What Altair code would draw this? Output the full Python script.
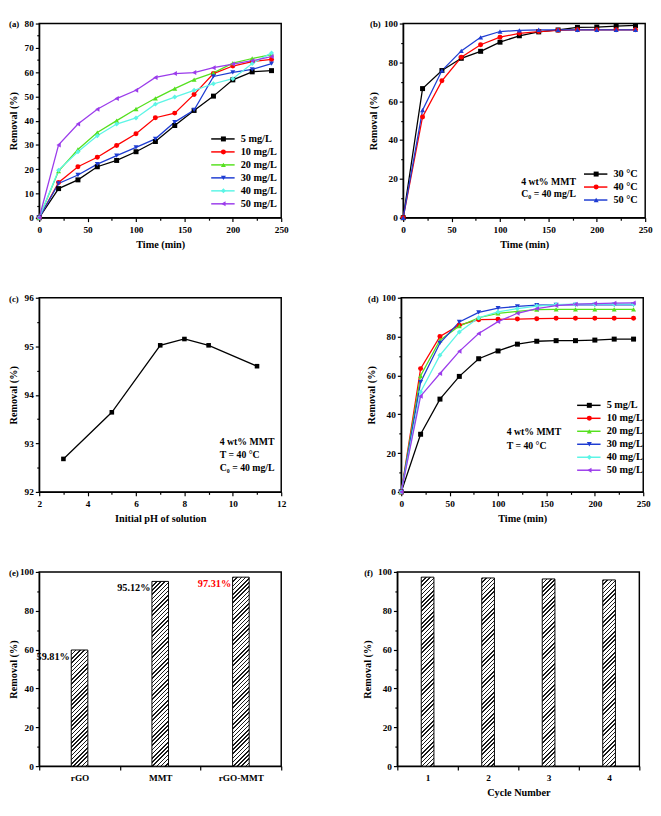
import altair as alt
import pandas as pd

FONT = "Liberation Serif"
W, H = 248, 199

# ---------------- data ----------------
time_min = [0, 20, 40, 60, 80, 100, 120, 140, 160, 180, 200, 220, 240]

conc_series = ["5 mg/L", "10 mg/L", "20 mg/L", "30 mg/L", "40 mg/L", "50 mg/L"]
a_5 = [0, 12.0, 15.6, 21.0, 23.6, 27.2, 31.4, 38.0, 44.2, 50.1, 56.8, 60.1, 60.6]
a_10 = [0, 14.5, 21.0, 24.9, 29.8, 34.6, 41.2, 43.1, 50.8, 59.4, 62.5, 64.3, 65.2]
a_20 = [0, 19.2, 28.1, 35.1, 40.0, 44.8, 49.2, 53.2, 56.9, 59.7, 63.7, 65.6, 67.2]
a_30 = [0, 14.1, 17.6, 22.1, 25.6, 29.0, 32.5, 39.4, 44.4, 58.2, 59.9, 61.1, 63.5]
a_40 = [0, 19.6, 27.2, 33.8, 38.6, 41.1, 46.8, 49.7, 52.5, 55.2, 57.3, 63.5, 67.9]
a_50 = [0, 30.0, 38.6, 44.7, 49.1, 52.5, 57.8, 59.4, 59.8, 61.8, 63.3, 64.7, 66.4]

temp_series = ["30 °C", "40 °C", "50 °C"]
b_30 = [0, 66.5, 75.8, 82.1, 85.7, 90.4, 93.7, 95.7, 96.7, 98.0, 98.2, 98.7, 99.0]
b_40 = [0, 51.9, 70.5, 82.6, 89.1, 93.0, 95.0, 95.9, 96.5, 96.8, 96.8, 96.8, 96.8]
b_50 = [0, 55.4, 75.8, 85.9, 92.9, 95.9, 96.5, 96.8, 96.8, 96.8, 96.8, 96.8, 96.8]

c_ph = [3, 5, 7, 8, 9, 11]
c_removal = [92.68, 93.64, 95.02, 95.15, 95.02, 94.59]

d_5 = [0, 29.7, 47.8, 59.5, 68.6, 72.6, 76.1, 77.6, 77.9, 77.9, 78.2, 78.7, 78.7]
d_10 = [0, 63.5, 80.1, 85.9, 88.7, 88.9, 89.0, 89.2, 89.4, 89.4, 89.4, 89.4, 89.4]
d_20 = [0, 59.8, 78.1, 85.4, 89.7, 92.0, 93.0, 93.9, 94.0, 94.0, 94.0, 94.0, 94.0]
d_30 = [0, 56.5, 76.7, 87.5, 92.5, 94.7, 95.5, 96.2, 96.3, 96.3, 96.3, 96.3, 96.3]
d_40 = [0, 51.5, 70.4, 82.4, 89.7, 92.7, 94.4, 95.7, 96.5, 96.7, 96.7, 96.7, 96.7]
d_50 = [0, 49.3, 61.0, 72.4, 81.6, 87.7, 92.0, 94.4, 96.0, 96.7, 97.0, 97.2, 97.3]

materials = ["rGO", "MMT", "rGO-MMT"]
e_removal = [59.81, 95.12, 97.31]

cycles = [1, 2, 3, 4]
f_removal = [97.31, 96.9, 96.4, 95.9]

panel_tags = ["(a)", "(b)", "(c)", "(d)", "(e)", "(f)"]
note_b = "4 wt% MMT\nC₀ = 40 mg/L"
note_c = "4 wt% MMT\nT = 40 °C\nC₀ = 40 mg/L"
note_d = "4 wt% MMT\nT = 40 °C"

# tick positions
time_ticks = [0, 50, 100, 150, 200, 250]
time_minor = [25, 75, 125, 175, 225]
pct_ticks = [0, 20, 40, 60, 80, 100]
pct_minor = [10, 30, 50, 70, 90]
a_ticks = [0, 10, 20, 30, 40, 50, 60, 70, 80]
a_minor = [5, 15, 25, 35, 45, 55, 65, 75]
ph_ticks = [2, 4, 6, 8, 10, 12]
ph_minor = [3, 5, 7, 9, 11]
c_ticks = [92, 93, 94, 95, 96]
c_minor = [92.5, 93.5, 94.5, 95.5]

conc_colors = ["#000000", "#FF0000", "#55E01E", "#1E3CD2", "#5CF5E6", "#9B3CEB"]
conc_shapes = ["square", "circle", "triangle-up", "triangle-down", "diamond", "triangle-left"]
temp_colors = ["#000000", "#FF0000", "#1E3CD2"]
temp_shapes = ["square", "circle", "triangle-up"]


def long_df(series, arrays):
    rows = []
    for s, arr in zip(series, arrays):
        for t, v in zip(time_min, arr):
            rows.append({"series": s, "time": t, "removal": v})
    return pd.DataFrame(rows)


df_a = long_df(conc_series, [a_5, a_10, a_20, a_30, a_40, a_50])
df_b = long_df(temp_series, [b_30, b_40, b_50])
df_d = long_df(conc_series, [d_5, d_10, d_20, d_30, d_40, d_50])
df_c = pd.DataFrame({"ph": c_ph, "removal": c_removal})
df_e = pd.DataFrame({"material": materials, "removal": e_removal})
df_f = pd.DataFrame({"cycle": cycles, "removal": f_removal})


# ---------------- helpers ----------------
def yaxis(values, left):
    ext = 20 if left else 22
    return alt.Axis(title="Removal (%)", values=values, format="d",
                    minExtent=ext, maxExtent=ext,
                    titlePadding=1 if left else 3, labelPadding=2)


def minor_axis(values, orient):
    return alt.Axis(values=values, labels=False, domain=False, title=None,
                    tickSize=2.5, orient=orient, grid=False)


def tag(letter, x):
    return alt.Chart(pd.DataFrame({"tag": [letter]})).mark_text(
        align="left", baseline="middle", fontSize=9
    ).encode(text="tag:N", x=alt.value(x), y=alt.value(1))


def note(text, x, y, lh):
    return alt.Chart(pd.DataFrame({"note": [text]})).mark_text(
        align="left", baseline="top", fontSize=10, lineBreak="\n", lineHeight=lh
    ).encode(text="note:N", x=alt.value(x), y=alt.value(y))


def kinetic(df, series, colors, shapes, ymax, yvals, yminor, left, letter, lx, ly, extra):
    xs = alt.Scale(domain=[0, 250], nice=False)
    ys = alt.Scale(domain=[0, ymax], nice=False)
    x = alt.X("time:Q", scale=xs,
              axis=alt.Axis(title="Time (min)", values=time_ticks, format="d"))
    y = alt.Y("removal:Q", scale=ys, axis=yaxis(yvals, left))
    xn = alt.X("time:Q", scale=xs, axis=None)
    yn = alt.Y("removal:Q", scale=ys, axis=None)
    cs = alt.Scale(domain=series, range=colors)
    ss = alt.Scale(domain=series, range=shapes)
    line_leg = alt.Legend(orient="none", legendX=lx + 8, legendY=ly, title=None,
                          symbolType="M-4,0H4", symbolSize=36, symbolStrokeWidth=1.5,
                          labelFontSize=10.5, labelOffset=13, rowPadding=2.3, padding=0)
    pt_leg = alt.Legend(orient="none", legendX=lx + 8.5, legendY=ly, title=None,
                        symbolSize=26, symbolStrokeWidth=1,
                        labelFontSize=10.5, labelOpacity=0, labelExpr="' '", labelOffset=4,
                        rowPadding=2.3, padding=0)
    base = alt.Chart(df)
    lines = base.mark_line(strokeWidth=1.3).encode(
        x=x, y=y, color=alt.Color("series:N", scale=cs, legend=line_leg))
    pts = base.mark_point(filled=True, size=26, opacity=1).encode(
        x=xn, y=yn,
        color=alt.Color("series:N", scale=cs, legend=pt_leg),
        shape=alt.Shape("series:N", scale=ss, legend=pt_leg))
    minor = base.mark_point(opacity=0).encode(
        x=alt.X("time:Q", scale=xs, axis=minor_axis(time_minor, "bottom")),
        y=alt.Y("removal:Q", scale=ys, axis=minor_axis(yminor, "left")))
    layers = [lines, pts, minor, tag(letter, -31 if left else -34)] + extra
    return alt.layer(*layers).resolve_scale(
        color="independent", shape="independent"
    ).resolve_legend(color="independent", shape="independent").resolve_axis(
        x="independent", y="independent"
    ).properties(width=W, height=H)


def hatch(w, h, period=4.3, line=1.5):
    total = w + h
    k = total / (w * w + h * h)
    stops = []
    pos = 0.0
    while pos < total:
        a = round(pos / total, 5)
        b = round(min((pos + line) / total, 1.0), 5)
        c = round(min((pos + period) / total, 1.0), 5)
        stops += [{"offset": a, "color": "#1a1a1a"}, {"offset": b, "color": "#1a1a1a"},
                  {"offset": b, "color": "#ffffff"}, {"offset": c, "color": "#ffffff"}]
        pos += period
    return {"gradient": "linear", "x1": 0, "y1": 0,
            "x2": round(w * k, 5), "y2": round(h * k, 5), "stops": stops}


def bar_panel(df, field, ftype, cats, vals, bar_w, left, letter, xtitle, extra):
    xs = alt.Scale(domain=cats, paddingInner=0, paddingOuter=0)
    ys = alt.Scale(domain=[0, 100], nice=False)
    x_axis = alt.Axis(labelAngle=0, tickBand="extent")
    if xtitle:
        x_axis = alt.Axis(title=xtitle, labelAngle=0, tickBand="extent")
    else:
        x_axis = alt.Axis(title=None, labelAngle=0, tickBand="extent")
    x = alt.X(f"{field}:{ftype}", scale=xs, axis=x_axis)
    y = alt.Y("removal:Q", scale=ys, axis=yaxis(pct_ticks, left))
    xn = alt.X(f"{field}:{ftype}", scale=xs, axis=None)
    yn = alt.Y("removal:Q", scale=ys, axis=None)
    layers = []
    for i, (c, v) in enumerate(zip(cats, vals)):
        layers.append(
            alt.Chart(df).transform_filter(alt.datum[field] == c).mark_bar(
                size=bar_w, stroke="black", strokeWidth=1, fill=hatch(bar_w, v / 100 * H)
            ).encode(x=x if i == 0 else xn, y=y if i == 0 else yn)
        )
    layers.append(alt.Chart(df).mark_point(opacity=0).encode(
        x=xn, y=alt.Y("removal:Q", scale=ys, axis=minor_axis(pct_minor, "left"))))
    layers.append(tag(letter, -31 if left else -34))
    for e in extra:
        layers.append(e(xn, yn))
    return alt.layer(*layers).resolve_axis(
        x="independent", y="independent"
    ).properties(width=W, height=H)


# ---------------- panels ----------------
pa = kinetic(df_a, conc_series, conc_colors, conc_shapes, 80, a_ticks, a_minor,
             True, panel_tags[0], 175, 113, [])
pb = kinetic(df_b, temp_series, temp_colors, temp_shapes, 100, pct_ticks, pct_minor,
             False, panel_tags[1], 184, 149, [note(note_b, 121, 157, 12.5)])
pd_ = kinetic(df_d, conc_series, conc_colors, conc_shapes, 100, pct_ticks, pct_minor,
              False, panel_tags[3], 179, 105, [note(note_d, 108, 133, 14)])

xcs = alt.Scale(domain=[2, 12], nice=False)
ycs = alt.Scale(domain=[92, 96], nice=False, zero=False)
xc = alt.X("ph:Q", scale=xcs,
           axis=alt.Axis(title="Initial pH of solution", values=ph_ticks, format="d"))
yc = alt.Y("removal:Q", scale=ycs, axis=yaxis(c_ticks, True))
c_base = alt.Chart(df_c)
pc = alt.layer(
    c_base.mark_line(color="black", strokeWidth=1.3).encode(x=xc, y=yc),
    c_base.mark_point(shape="square", filled=True, size=22, color="black", opacity=1).encode(
        x=alt.X("ph:Q", scale=xcs, axis=None), y=alt.Y("removal:Q", scale=ycs, axis=None)),
    c_base.mark_point(opacity=0).encode(
        x=alt.X("ph:Q", scale=xcs, axis=minor_axis(ph_minor, "bottom")),
        y=alt.Y("removal:Q", scale=ycs, axis=minor_axis(c_minor, "left"))),
    tag(panel_tags[2], -31),
    note(note_c, 185, 143, 13.5),
).resolve_axis(x="independent", y="independent").properties(width=W, height=H)


def e_labels(x, y):
    return alt.Chart(df_e).transform_calculate(
        lbl="format(datum.removal, '.2f') + '%'"
    ).mark_text(align="right", baseline="top", dx=-10, dy=2, fontSize=10.5).encode(
        x=x, y=y, text="lbl:N",
        color=alt.condition(alt.datum.material == "rGO-MMT", alt.value("#FF0000"), alt.value("black")),
    )


pe = bar_panel(df_e, "material", "N", materials, e_removal, 17, True, panel_tags[4], None, [e_labels])
pf = bar_panel(df_f, "cycle", "O", cycles, f_removal, 13, False, panel_tags[5], "Cycle Number", [])


def row(l, r):
    return alt.hconcat(l, r, spacing=81).resolve_scale(
        color="independent", shape="independent"
    ).resolve_legend(color="independent", shape="independent")


chart = alt.vconcat(row(pa, pb), row(pc, pd_), row(pe, pf), spacing=42).resolve_scale(
    color="independent", shape="independent"
).resolve_legend(color="independent", shape="independent").properties(
    padding=0
).configure_axis(
    labelFont=FONT, labelFontWeight="bold", labelFontSize=9.5, labelColor="black",
    titleFont=FONT, titleFontWeight="bold", titleFontSize=10.5, titleColor="black",
    domainColor="black", domainWidth=1.2, tickColor="black", tickWidth=1.2, tickSize=4,
    grid=False, labelFlush=False,
).configure_axisX(labelPadding=3, titlePadding=6, labelAngle=0).configure_view(
    stroke="black", strokeWidth=1.5
).configure_text(font=FONT, fontWeight="bold").configure_legend(
    labelFont=FONT, labelFontWeight="bold", labelColor="black"
)

chart.save("out.html", embed_options={"renderer": "svg", "actions": False})
